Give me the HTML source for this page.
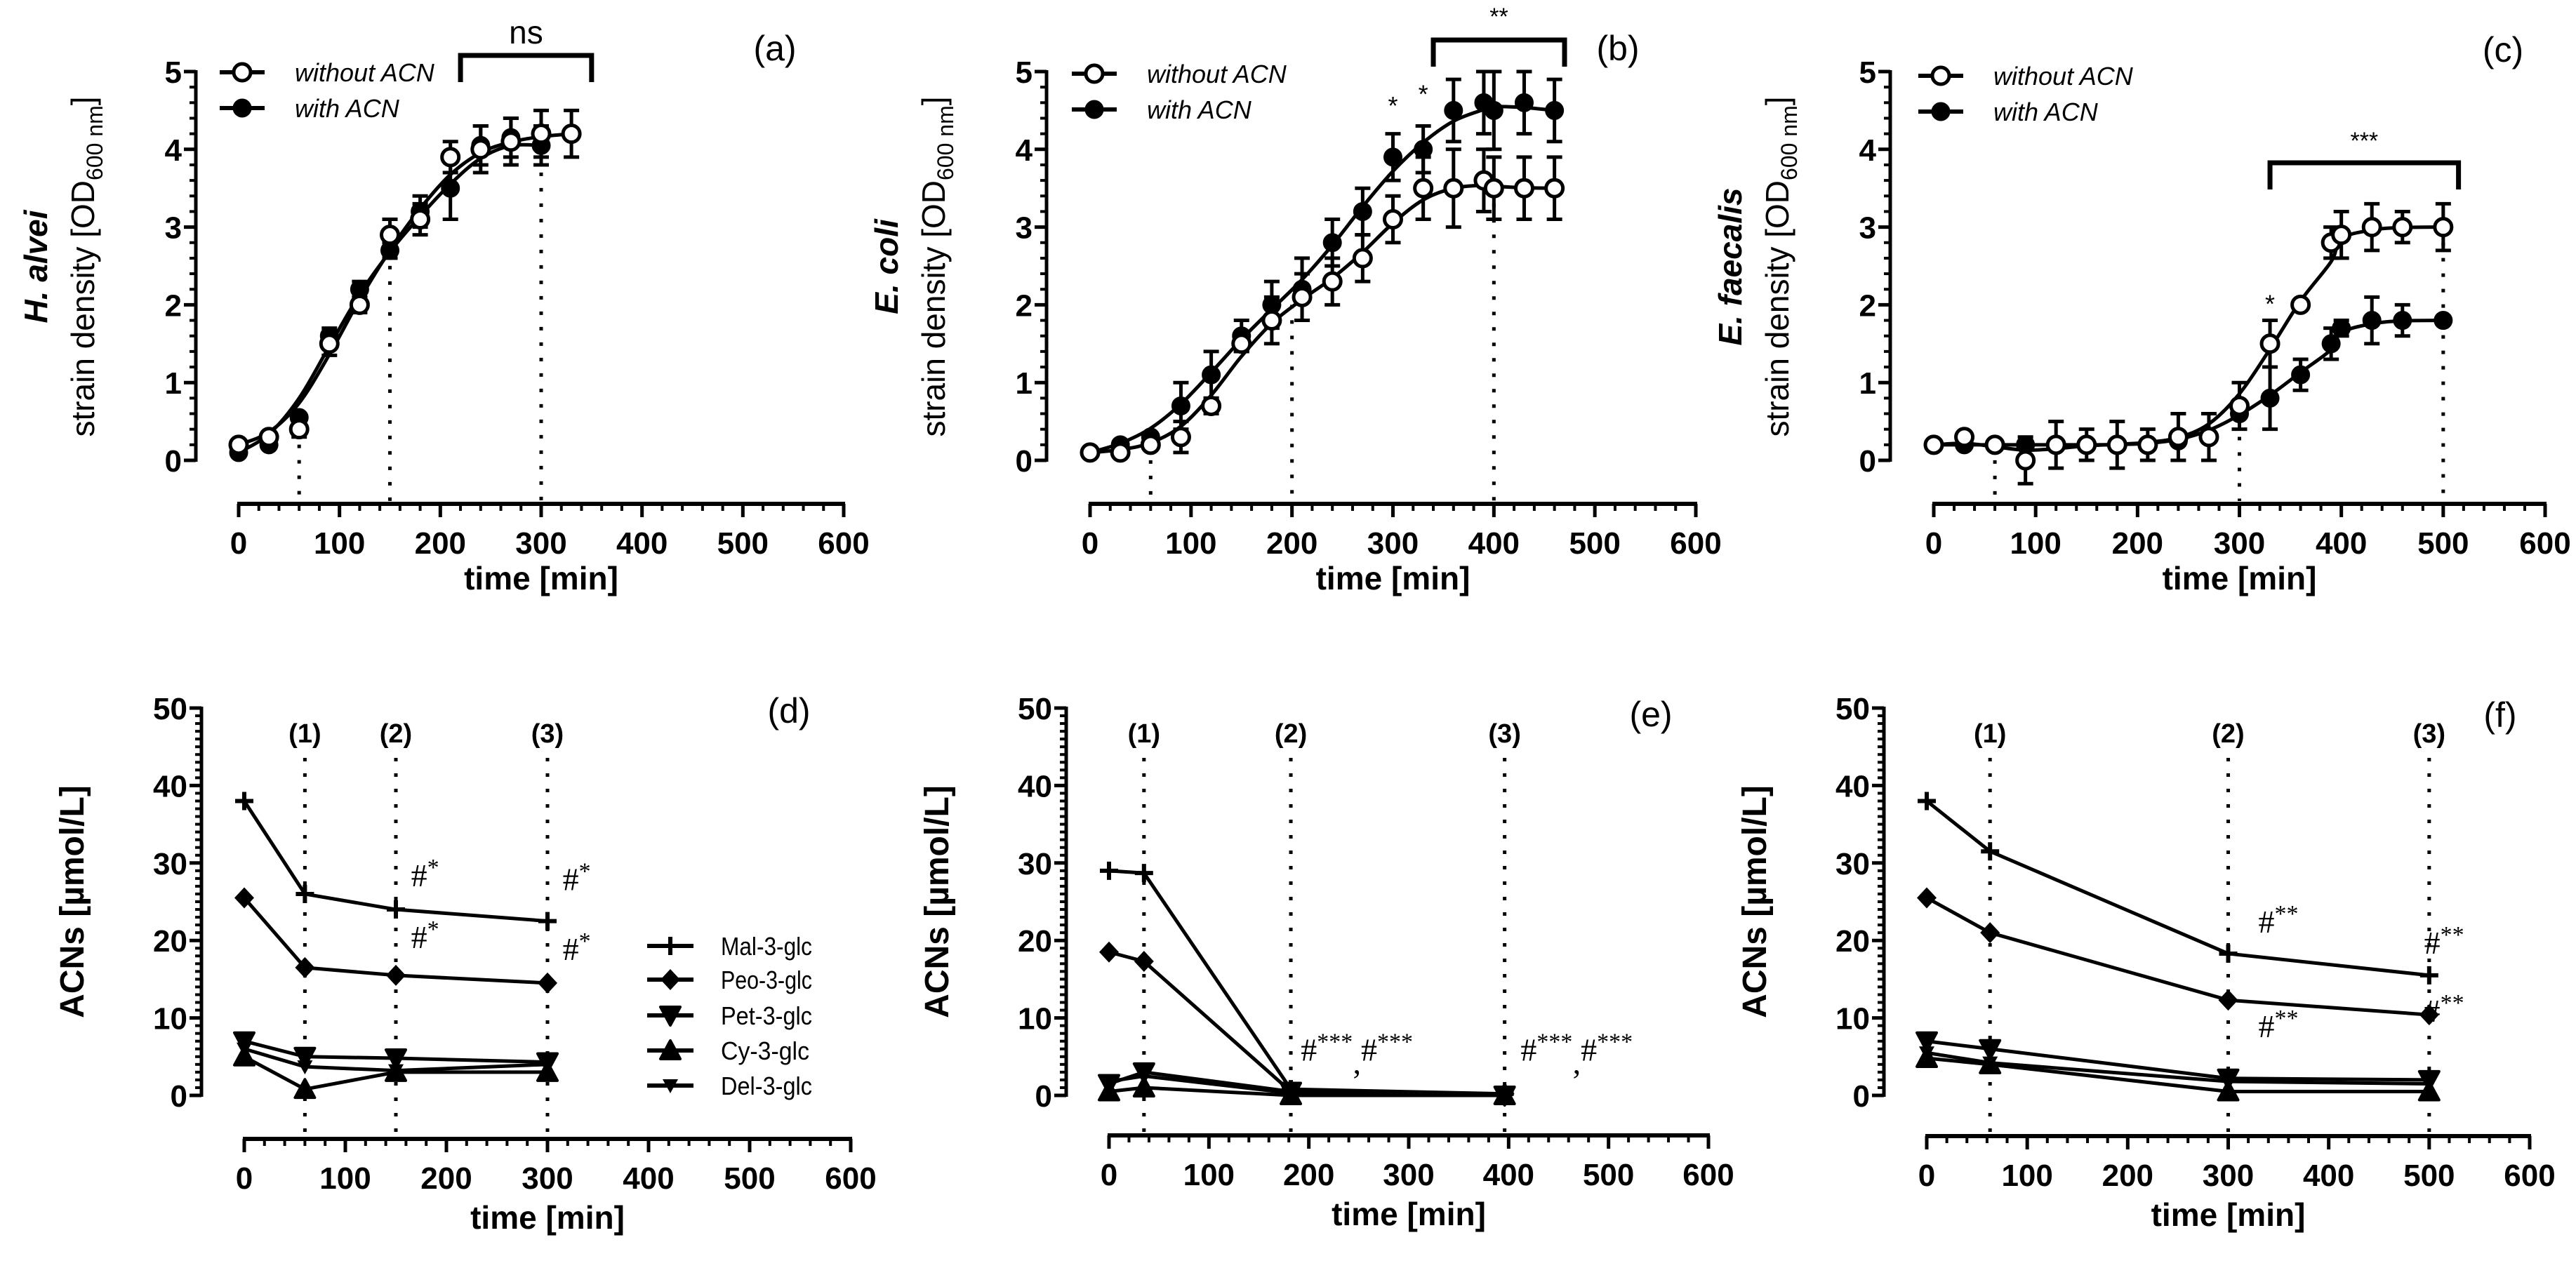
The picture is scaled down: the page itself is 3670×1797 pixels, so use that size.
<!DOCTYPE html>
<html><head><meta charset="utf-8">
<style>
html,body{margin:0;padding:0;background:#fff;}
svg{display:block;}
text{font-family:"Liberation Sans",Arial,sans-serif;fill:#000;}
.tk{font-weight:bold;font-size:44px;}
.ttl{font-weight:bold;font-size:46px;}
.lg{font-style:italic;font-size:36px;}
.pl{font-size:50px;}
.hs{font-family:"Liberation Serif",serif;font-size:46px;}
</style></head>
<body>
<svg id="fig" xmlns="http://www.w3.org/2000/svg" width="3670" height="1797" viewBox="0 0 3670 1797"></svg>
<script>
// ---------- data: growth panels ----------
const aWoT=[0,30,60,90,120,150,180,210,240,270,300,330];
const aWoY=[0.2,0.3,0.4,1.5,2.0,2.9,3.1,3.9,4.0,4.1,4.2,4.2];
const aWoE=[0.05,0.05,0.1,0.15,0.1,0.2,0.2,0.2,0.3,0.3,0.3,0.3];
const aWT=[0,30,60,90,120,150,180,210,240,270,300];
const aWY=[0.1,0.2,0.55,1.6,2.2,2.7,3.2,3.5,4.05,4.15,4.05];
const aWE=[0.05,0.05,0.05,0.1,0.1,0.1,0.2,0.4,0.25,0.25,0.25];

const bWoT=[0,30,60,90,120,150,180,210,240,270,300,330,360,390,400,430,460];
const bWoY=[0.1,0.1,0.2,0.3,0.7,1.5,1.8,2.1,2.3,2.6,3.1,3.5,3.5,3.6,3.5,3.5,3.5];
const bWoE=[0,0,0.05,0.2,0.1,0.1,0.3,0.3,0.3,0.3,0.3,0.4,0.5,0.4,0.4,0.4,0.4];
const bWT=[0,30,60,90,120,150,180,210,240,270,300,330,360,390,400,430,460];
const bWY=[0.1,0.2,0.3,0.7,1.1,1.6,2.0,2.2,2.8,3.2,3.9,4.0,4.5,4.6,4.5,4.6,4.5];
const bWE=[0,0.05,0.05,0.3,0.3,0.2,0.3,0.4,0.3,0.3,0.3,0.3,0.4,0.4,0.5,0.4,0.4];

const cWoT=[0,30,60,90,120,150,180,210,240,270,300,330,360,390,400,430,460,500];
const cWoY=[0.2,0.3,0.2,0,0.2,0.2,0.2,0.2,0.3,0.3,0.7,1.5,2.0,2.8,2.9,3.0,3.0,3.0];
const cWoE=[0.05,0.05,0.05,0.3,0.3,0.2,0.3,0.2,0.3,0.3,0.3,0.3,0.05,0.2,0.3,0.3,0.2,0.3];
const cWT=[0,30,60,90,120,150,180,210,240,270,300,330,360,390,400,430,460,500];
const cWY=[0.2,0.2,0.2,0.2,0.2,0.2,0.2,0.2,0.25,0.3,0.6,0.8,1.1,1.5,1.7,1.8,1.8,1.8];
const cWE=[0,0,0,0,0,0,0,0,0,0,0,0.4,0.2,0.2,0.1,0.3,0.2,0.05];

// ---------- data: ACN panels ----------
const dT=[0,60,150,300];
const dMal=[38,26,24,22.5], dPeo=[25.5,16.5,15.5,14.5], dPet=[7,5,4.8,4.3], dCy=[5,0.8,3,3], dDel=[6,3.7,3.2,4];
const eT=[0,35,182,396];
const eMal=[29,28.7,0.8,0.2], ePeo=[18.5,17.3,0.5,0.2], ePet=[1.5,3,0.5,0], eCy=[0.5,1,0,0], eDel=[1.8,2.5,0.3,0];
const fT=[0,63,300,500];
const fMal=[38,31.5,18.3,15.5], fPeo=[25.5,21,12.3,10.4], fPet=[7,6,2.2,2], fCy=[4.8,4,0.5,0.5], fDel=[5.5,4.2,1.8,1.5];
const xTicks=[0,100,200,300,400,500,600];
const odTicks=[0,1,2,3,4,5];
const acnTicks=[0,10,20,30,40,50];
const seriesNames=["Mal-3-glc","Peo-3-glc","Pet-3-glc","Cy-3-glc","Del-3-glc"];

const NS="http://www.w3.org/2000/svg";
const svg=document.getElementById('fig');
function el(tag,attrs,parent,txt){const e=document.createElementNS(NS,tag);for(const k in attrs)e.setAttribute(k,attrs[k]);if(txt!==undefined)e.textContent=txt;(parent||svg).appendChild(e);return e;}
function grp(name){const g=el('g',{});return g;}

function smoothPath(pts){
  let d=`M${pts[0][0]},${pts[0][1]}`;
  for(let i=0;i<pts.length-1;i++){
    const p0=pts[Math.max(0,i-1)],p1=pts[i],p2=pts[i+1],p3=pts[Math.min(pts.length-1,i+2)];
    const c1=[p1[0]+(p2[0]-p0[0])/6,p1[1]+(p2[1]-p0[1])/6];
    const c2=[p2[0]-(p3[0]-p1[0])/6,p2[1]-(p3[1]-p1[1])/6];
    d+=` C${c1[0]},${c1[1]} ${c2[0]},${c2[1]} ${p2[0]},${p2[1]}`;
  }
  return d;
}
function smoothVals(Y,passes){
  let a=Y.slice();
  for(let p=0;p<passes;p++){
    const b=a.slice();
    for(let i=1;i<a.length-1;i++) b[i]=0.25*a[i-1]+0.5*a[i]+0.25*a[i+1];
    a=b;
  }
  return a;
}

function axes(g,P,ticks,minorStep,xTitleY){
  const {yx,x0,x1,yTop,y0,axY,ymax}=P;
  const xa=t=>x0+t*(x1-x0)/600, ya=v=>y0-v*(y0-yTop)/ymax;
  const ya_g=grp('y-axis');g.appendChild(ya_g);
  el('line',{x1:yx,y1:ya(ymax)-2,x2:yx,y2:ya(0)+2,stroke:'#000','stroke-width':5},ya_g);
  for(let v=0;v<=ymax+1e-9;v+=minorStep){
    const major=ticks.some(t=>Math.abs(t-v)<1e-6);
    el('line',{x1:yx-(major?17:9),y1:ya(v),x2:yx,y2:ya(v),stroke:'#000','stroke-width':major?5:4},ya_g);
  }
  ticks.forEach(t=>{const tx=el('text',{x:yx-20,y:ya(t)+16,'text-anchor':'end',class:'tk'},ya_g,String(t));
    });
  const xg=grp('x-axis');g.appendChild(xg);
  el('line',{x1:xa(0)-2,y1:axY,x2:xa(600)+2,y2:axY,stroke:'#000','stroke-width':6},xg);
  for(let t=0;t<=600;t+=20){const major=t%100===0;
    el('line',{x1:xa(t),y1:axY,x2:xa(t),y2:axY+(major?19:10),stroke:'#000','stroke-width':major?5:4},xg);}
  xTicks.forEach(t=>{const tx=el('text',{x:xa(t),y:axY+71,'text-anchor':'middle',class:'tk'},xg,String(t));
    });
  const tt=el('text',{x:xa(300),y:xTitleY,'text-anchor':'middle',class:'ttl'},xg,'time [min]');
  
  return {xa,ya};
}

function dotted(g,x,ya1,y2){
  el('line',{x1:x,y1:ya1,x2:x,y2:y2,stroke:'#000','stroke-width':5,'stroke-dasharray':'5 17'},g);
}

// ---------- growth panels ----------
function growth(cfg){
  const g=grp('panel-'+cfg.id);
  const P={yx:cfg.yx,x0:cfg.x0,x1:cfg.x1,yTop:102,y0:656,axY:718,ymax:5};
  const {xa,ya}=axes(g,P,odTicks,0.2,840);
  const yl=el('text',{transform:`translate(${cfg.yx-145},380) rotate(-90)`,'text-anchor':'middle','font-size':'46px'},g);
  
  el('tspan',{},yl,'strain density  [OD');
  el('tspan',{'font-size':'32px',dy:'12'},yl,'600 nm');
  el('tspan',{dy:'-12'},yl,']');
  const sp=el('text',{transform:`translate(${cfg.yx-212},380) rotate(-90)`,'text-anchor':'middle','font-size':'46px','font-weight':'bold','font-style':'italic'},g,cfg.species);
  
  const dg=grp('guide-lines');g.appendChild(dg);
  cfg.guides.forEach(([t,v])=>dotted(dg,xa(t),ya(v),P.axY-4));
  [[cfg.woT,cfg.woY,'fit-without-acn'],[cfg.wT,cfg.wY,'fit-with-acn']].forEach(([T,Y,n])=>{
    const S=smoothVals(Y,2);
    const p=el('path',{d:smoothPath(T.map((t,i)=>[xa(t),ya(S[i])])),fill:'none',stroke:'#000','stroke-width':5},g);
    
  });
  function series(T,Y,E,open,name){
    const sg=grp(name);g.appendChild(sg);
    T.forEach((t,i)=>{
      const x=xa(t),v=Y[i],e=E[i];
      if(e>0.06){
        el('line',{x1:x,y1:ya(v+e),x2:x,y2:ya(v-e),stroke:'#000','stroke-width':5},sg);
        el('line',{x1:x-11,y1:ya(v+e),x2:x+11,y2:ya(v+e),stroke:'#000','stroke-width':5},sg);
        el('line',{x1:x-11,y1:ya(v-e),x2:x+11,y2:ya(v-e),stroke:'#000','stroke-width':5},sg);
      }
      const c=el('circle',{cx:x,cy:ya(v),r:open?12:11,fill:open?'#fff':'#000',stroke:'#000','stroke-width':5},sg);
      
      
    });
  }
  series(cfg.wT,cfg.wY,cfg.wE,false,'series-with-acn');
  series(cfg.woT,cfg.woY,cfg.woE,true,'series-without-acn');
  const lg=grp('legend');g.appendChild(lg);
  [['without ACN',true,cfg.legY],['with ACN',false,cfg.legY+51]].forEach(([lab,open,y])=>{
    const eg=grp('legend-entry');lg.appendChild(eg);
    el('line',{x1:cfg.legX-32,y1:y,x2:cfg.legX+32,y2:y,stroke:'#000','stroke-width':6},eg);
    el('circle',{cx:cfg.legX,cy:y,r:open?12:11,fill:open?'#fff':'#000',stroke:'#000','stroke-width':5},eg);
    el('text',{x:cfg.legX+75,y:y+13,class:'lg'},eg,lab);
  });
  const bg=grp('significance-bracket');g.appendChild(bg);
  const [b0,b1,by,bd,lab,ly]=cfg.bracket;
  el('path',{d:`M${xa(b0)},${bd} V${by} H${xa(b1)} V${bd}`,fill:'none',stroke:'#000','stroke-width':7},bg);
  el('text',{x:(xa(b0)+xa(b1))/2,y:ly,'text-anchor':'middle','font-size':lab==='ns'?'46px':'34px'},bg,lab);
  cfg.stars.forEach(([t,v])=>{const s=el('text',{x:xa(t),y:ya(v),'text-anchor':'middle','font-size':'36px'},g,'*');
    });
  const pl=el('text',{x:cfg.pl[0],y:cfg.pl[1],'text-anchor':'middle',class:'pl'},g,cfg.label);
  
}

growth({id:'a',yx:279,x0:340,x1:1202,species:'H. alvei',woT:aWoT,woY:aWoY,woE:aWoE,wT:aWT,wY:aWY,wE:aWE,
  guides:[[60,0.4],[150,2.7],[300,3.9]],legX:345,legY:103,bracket:[220,350,79,117,'ns',62],stars:[],pl:[1104,86],label:'(a)'});
growth({id:'b',yx:1491,x0:1553,x1:2416,species:'E. coli',woT:bWoT,woY:bWoY,woE:bWoE,wT:bWT,wY:bWY,wE:bWE,
  guides:[[60,0.2],[200,2.0],[400,3.5]],legX:1559,legY:105,bracket:[340,470,57,95,'**',35],stars:[[300,4.45],[330,4.6]],pl:[2305,86],label:'(b)'});
growth({id:'c',yx:2693,x0:2755,x1:3626,species:'E. faecalis',woT:cWoT,woY:cWoY,woE:cWoE,wT:cWT,wY:cWY,wE:cWE,
  guides:[[60,0.2],[300,0.7],[500,3.0]],legX:2765,legY:108,bracket:[330,515,232,270,'***',212],stars:[[330,1.9]],pl:[3566,88],label:'(c)'});

// ---------- ACN panels ----------
function marker(g,type,x,y,s){
  s=s||1;
  if(type===0){el('path',{d:`M${x-13*s},${y}H${x+13*s}M${x},${y-13*s}V${y+13*s}`,stroke:'#000','stroke-width':6},g);}
  else if(type===1){el('path',{d:`M${x},${y-15*s}L${x+14*s},${y}L${x},${y+15*s}L${x-14*s},${y}Z`,fill:'#000'},g);}
  else if(type===2){el('path',{d:`M${x-14*s},${y-12*s}H${x+14*s}L${x},${y+14*s}Z`,fill:'#000',stroke:'#000','stroke-width':4,'stroke-linejoin':'round'},g);}
  else if(type===3){el('path',{d:`M${x-14*s},${y+12*s}H${x+14*s}L${x},${y-14*s}Z`,fill:'#000',stroke:'#000','stroke-width':4,'stroke-linejoin':'round'},g);}
  else {el('path',{d:`M${x-11*s},${y-9*s}H${x+11*s}L${x},${y+11*s}Z`,fill:'#000'},g);}
}
function acn(cfg){
  const g=grp('panel-'+cfg.id);
  const P={yx:cfg.yx,x0:cfg.x0,x1:cfg.x1,yTop:1009,y0:1561,axY:cfg.axY,ymax:50};
  const {xa,ya}=axes(g,P,acnTicks,1,cfg.axY+128);
  const yl=el('text',{transform:`translate(${cfg.yx-168},1285) rotate(-90)`,'text-anchor':'middle','font-size':'48px','font-weight':'bold'},g,'ACNs  [µmol/L]');
  
  const dg=grp('sampling-lines');g.appendChild(dg);
  cfg.T.slice(1).forEach((t,i)=>{
    dotted(dg,xa(t),1080,cfg.axY-4);
    el('text',{x:xa(t),y:1058,'text-anchor':'middle','font-size':'38px','font-weight':'bold'},dg,'('+(i+1)+')');
  });
  cfg.S.forEach((Y,k)=>{
    const sg=grp('series-'+seriesNames[k].toLowerCase());g.appendChild(sg);
    el('path',{d:'M'+cfg.T.map((t,i)=>xa(t)+','+ya(Y[i])).join(' L'),fill:'none',stroke:'#000','stroke-width':5},sg);
    cfg.T.forEach((t,i)=>marker(sg,k,xa(t),ya(Y[i])));
  });
  cfg.ann.forEach(([t,v,stars,text])=>{
    const a=el('text',{x:xa(t),y:ya(v),class:'hs'},g);
    
    text.split(',').forEach((p,j)=>{
      if(j>0) el('tspan',{dy:'18'},a,',');
      el('tspan',{dy:j>0?'-18':'0'},a,'#');
      el('tspan',{dy:'-16','font-size':'34px'},a,stars);
      el('tspan',{dy:'16','font-size':'1px'},a,' ');
    });
  });
  const pl=el('text',{x:cfg.pl[0],y:cfg.pl[1],'text-anchor':'middle',class:'pl'},g,cfg.label);
  
  if(cfg.legend){
    const lg=grp('legend');g.appendChild(lg);
    const ys=[1348,1396,1447,1497,1547];
    seriesNames.forEach((n,k)=>{
      const eg=grp('legend-entry');lg.appendChild(eg);
      el('line',{x1:922,y1:ys[k],x2:988,y2:ys[k],stroke:'#000','stroke-width':6},eg);
      marker(eg,k,955,ys[k]);
      el('text',{x:1027,y:ys[k]+13,'font-size':'36px',textLength:130+(n.length-9)*4,lengthAdjust:'spacingAndGlyphs'},eg,n);
    });
  }
}
acn({id:'d',yx:287,x0:348,x1:1212,axY:1623,T:dT,S:[dMal,dPeo,dPet,dCy,dDel],legend:true,
  ann:[[165,27,'*','#'],[315,26.5,'*','#'],[165,19,'*','#'],[315,17.5,'*','#']],pl:[1124,1030],label:'(d)'});
acn({id:'e',yx:1519,x0:1580,x1:2434,axY:1618,T:eT,S:[eMal,ePeo,ePet,eCy,eDel],legend:false,
  ann:[[192,4.5,'***','#,#'],[412,4.5,'***','#,#']],pl:[2352,1035],label:'(e)'});
acn({id:'f',yx:2684,x0:2745,x1:3604,axY:1619,T:fT,S:[fMal,fPeo,fPet,fCy,fDel],legend:false,
  ann:[[330,21,'**','#'],[330,7.5,'**','#'],[495,18.3,'**','#'],[495,9.5,'**','#']],pl:[3562,1036],label:'(f)'});
</script>
</body></html>
